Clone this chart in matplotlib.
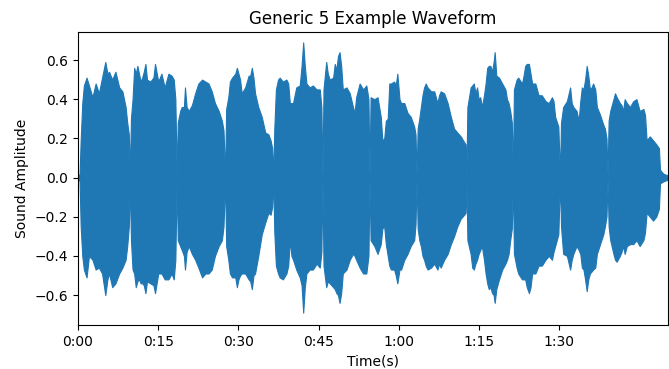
import numpy as np
import matplotlib
matplotlib.use("Agg")
import matplotlib.pyplot as plt
from matplotlib.ticker import FuncFormatter, FixedLocator

# Envelope of the waveform (seconds, amplitude)
env_time = [
    0.0, 0.3, 0.5, 0.8, 1.1, 1.6, 2.05, 2.7, 3.3, 3.9, 4.5, 5.1, 5.5, 5.8, 6.4, 7.0, 7.7, 8.3, 8.9, 9.2, 9.5, 9.7,
    9.9, 10.2, 10.5, 10.8, 11.1, 11.4, 11.7, 12.0, 12.3, 12.6, 12.9, 13.5, 14.1, 14.4, 15.0, 15.6, 16.2, 16.9, 17.5, 17.9, 18.2, 18.45,
    18.65, 19.1, 19.4, 19.8, 20.0, 20.3, 20.7, 21.3, 21.9, 22.5, 23.2, 23.8, 24.4, 25.0, 25.6, 26.3, 26.9, 27.2, 27.5,
    27.7, 28.1, 28.4, 28.8, 29.4, 29.7, 30.0, 30.3, 30.6, 31.25, 31.9, 32.2, 32.5, 32.8, 33.1, 33.7, 34.35, 35.0, 35.6, 36.0, 36.3, 36.5,
    36.7, 37.0, 37.4, 37.7, 38.3, 38.96, 39.3, 39.6, 39.9, 40.2, 40.8, 41.45, 41.8, 42.1, 42.4, 42.7, 43.3, 43.9, 44.6, 45.2, 45.5, 45.7,
    45.9, 46.4, 46.7, 47.05, 47.7, 48.0, 48.3, 48.6, 48.9, 49.2, 49.5, 50.2, 50.8, 51.4, 51.7, 52.0, 52.65, 53.3, 53.9, 54.3, 54.5,
    54.7, 55.4, 56.0, 56.6, 56.9, 57.25, 57.55, 57.9, 58.2, 58.5, 59.1, 59.4, 59.7, 60.1, 60.4, 61.0, 61.6, 62.2, 62.85, 63.1, 63.3,
    63.5, 63.8, 64.1, 64.4, 64.7, 65.0, 65.35, 66.0, 66.6, 67.2, 67.5, 67.8, 68.45, 69.1, 69.7, 70.3, 70.9, 71.55, 72.2, 72.45, 72.6,
    72.8, 73.4, 73.7, 74.0, 74.3, 74.6, 74.9, 75.2, 75.5, 75.9, 76.2, 76.5, 76.8, 77.1, 77.4, 77.7, 77.9, 78.2, 78.7, 79.3, 79.9, 80.2, 80.5, 80.8, 81.1, 81.3,
    81.5, 82.0, 82.3, 83.0, 83.3, 83.6, 83.9, 84.3, 84.6, 84.9, 85.5, 86.1, 86.7, 87.4, 88.0, 88.6, 88.9, 89.2, 89.8, 90.1,
    90.3, 90.7, 91.4, 92.0, 92.3, 92.6, 93.2, 93.6, 93.9, 94.2, 94.5, 94.8, 95.1, 95.4, 95.7, 96.0, 96.3, 96.7, 97.0, 97.6, 98.2, 98.5, 98.8, 99.0,
    99.2, 99.5, 100.1, 100.4, 100.7, 101.3, 101.6, 101.9, 102.2, 102.6, 103.2, 103.8, 104.4, 105.0, 105.7, 106.0, 106.3, 106.9, 107.5, 108.1, 108.6, 108.8, 109.4, 110.3,
]
env_upper = [
    0.00, 0.02, 0.19, 0.38, 0.47, 0.51, 0.47, 0.41, 0.48, 0.43, 0.51, 0.59, 0.53, 0.54, 0.50, 0.54, 0.46, 0.44, 0.36, 0.28, 0.22, 0.02,
    0.30, 0.40, 0.56, 0.53, 0.57, 0.53, 0.49, 0.51, 0.54, 0.58, 0.50, 0.49, 0.51, 0.58, 0.49, 0.53, 0.46, 0.53, 0.52, 0.50, 0.40, 0.01,
    0.28, 0.34, 0.36, 0.36, 0.46, 0.36, 0.34, 0.37, 0.43, 0.48, 0.50, 0.49, 0.48, 0.44, 0.38, 0.34, 0.29, 0.24, 0.01,
    0.35, 0.41, 0.49, 0.51, 0.53, 0.56, 0.53, 0.50, 0.43, 0.46, 0.52, 0.52, 0.56, 0.51, 0.43, 0.36, 0.31, 0.23, 0.22, 0.19, 0.15, 0.01,
    0.25, 0.45, 0.50, 0.51, 0.49, 0.50, 0.48, 0.38, 0.38, 0.38, 0.46, 0.47, 0.57, 0.69, 0.57, 0.48, 0.46, 0.47, 0.45, 0.45, 0.36, 0.01,
    0.45, 0.59, 0.53, 0.50, 0.51, 0.58, 0.55, 0.62, 0.64, 0.57, 0.45, 0.46, 0.43, 0.36, 0.33, 0.41, 0.48, 0.45, 0.47, 0.40, 0.01,
    0.41, 0.40, 0.41, 0.31, 0.19, 0.20, 0.29, 0.30, 0.48, 0.48, 0.49, 0.47, 0.53, 0.40, 0.38, 0.38, 0.33, 0.31, 0.26, 0.22, 0.01,
    0.25, 0.30, 0.36, 0.42, 0.46, 0.48, 0.46, 0.44, 0.44, 0.38, 0.42, 0.44, 0.43, 0.38, 0.31, 0.25, 0.23, 0.21, 0.18, 0.17, 0.01,
    0.36, 0.46, 0.47, 0.48, 0.43, 0.46, 0.40, 0.41, 0.36, 0.42, 0.48, 0.56, 0.57, 0.57, 0.54, 0.59, 0.64, 0.52, 0.51, 0.48, 0.45, 0.40, 0.38, 0.34, 0.28, 0.01,
    0.45, 0.50, 0.51, 0.48, 0.52, 0.57, 0.58, 0.58, 0.53, 0.48, 0.48, 0.42, 0.42, 0.39, 0.38, 0.41, 0.39, 0.31, 0.26, 0.01,
    0.28, 0.36, 0.39, 0.46, 0.38, 0.36, 0.34, 0.29, 0.39, 0.46, 0.45, 0.50, 0.57, 0.52, 0.45, 0.46, 0.48, 0.45, 0.36, 0.32, 0.27, 0.25, 0.20, 0.01,
    0.29, 0.34, 0.40, 0.43, 0.41, 0.38, 0.37, 0.34, 0.40, 0.38, 0.36, 0.39, 0.40, 0.34, 0.35, 0.32, 0.19, 0.21, 0.19, 0.17, 0.15, 0.04, 0.02, 0.01,
]
env_lower = [
    0.00, -0.02, -0.25, -0.40, -0.47, -0.51, -0.40, -0.42, -0.47, -0.46, -0.49, -0.60, -0.52, -0.49, -0.56, -0.54, -0.49, -0.46, -0.42, -0.35, -0.25, -0.03,
    -0.32, -0.47, -0.49, -0.56, -0.53, -0.52, -0.54, -0.54, -0.55, -0.59, -0.53, -0.54, -0.55, -0.59, -0.49, -0.49, -0.52, -0.52, -0.49, -0.52, -0.42, -0.01,
    -0.32, -0.35, -0.37, -0.40, -0.47, -0.38, -0.35, -0.39, -0.42, -0.46, -0.51, -0.49, -0.49, -0.47, -0.40, -0.35, -0.32, -0.25, -0.01,
    -0.35, -0.42, -0.49, -0.51, -0.51, -0.56, -0.52, -0.50, -0.49, -0.49, -0.52, -0.53, -0.57, -0.50, -0.49, -0.40, -0.29, -0.23, -0.18, -0.19, -0.15, -0.01,
    -0.28, -0.45, -0.49, -0.51, -0.52, -0.49, -0.45, -0.32, -0.40, -0.42, -0.47, -0.51, -0.55, -0.69, -0.56, -0.49, -0.47, -0.47, -0.44, -0.46, -0.38, -0.01,
    -0.45, -0.56, -0.53, -0.54, -0.56, -0.57, -0.59, -0.60, -0.64, -0.59, -0.49, -0.47, -0.42, -0.39, -0.40, -0.42, -0.46, -0.49, -0.49, -0.40, -0.01,
    -0.32, -0.35, -0.39, -0.34, -0.26, -0.25, -0.34, -0.40, -0.45, -0.47, -0.47, -0.50, -0.54, -0.47, -0.47, -0.42, -0.39, -0.35, -0.32, -0.24, -0.01,
    -0.26, -0.32, -0.35, -0.40, -0.42, -0.45, -0.47, -0.46, -0.44, -0.47, -0.44, -0.46, -0.42, -0.39, -0.34, -0.30, -0.25, -0.21, -0.19, -0.18, -0.01,
    -0.32, -0.39, -0.46, -0.47, -0.44, -0.42, -0.39, -0.37, -0.35, -0.42, -0.49, -0.54, -0.57, -0.56, -0.59, -0.60, -0.64, -0.57, -0.52, -0.47, -0.44, -0.42, -0.39, -0.32, -0.26, -0.01,
    -0.39, -0.46, -0.49, -0.52, -0.52, -0.52, -0.56, -0.59, -0.56, -0.49, -0.49, -0.45, -0.45, -0.42, -0.40, -0.42, -0.38, -0.35, -0.29, -0.01,
    -0.25, -0.39, -0.40, -0.47, -0.42, -0.39, -0.35, -0.37, -0.39, -0.46, -0.47, -0.52, -0.58, -0.52, -0.49, -0.48, -0.47, -0.46, -0.39, -0.34, -0.29, -0.25, -0.20, -0.01,
    -0.25, -0.32, -0.39, -0.42, -0.43, -0.40, -0.38, -0.35, -0.39, -0.35, -0.34, -0.34, -0.32, -0.35, -0.32, -0.28, -0.18, -0.20, -0.22, -0.20, -0.16, -0.03, -0.02, -0.01,
]

x_ticks = [0, 15, 30, 45, 60, 75, 90]
y_ticks = [-0.6, -0.4, -0.2, 0.0, 0.2, 0.4, 0.6]
title = "Generic 5 Example Waveform"
xlabel = "Time(s)"
ylabel = "Sound Amplitude"

assert len(env_time) == len(env_upper) == len(env_lower)

plt.rcParams['font.family'] = ['DejaVu Sans']
plt.rcParams['font.size'] = 10

W, H = 669, 369
fig = plt.figure(figsize=(W / 100, H / 100), dpi=100)
ax = fig.add_axes([78 / W, 44 / H, 590 / W, 293 / H])

color = '#1f77b4'
ax.fill_between(env_time, env_lower, env_upper, color=color, linewidth=0.8, edgecolor=color)

ax.set_xlim(0, env_time[-1])
ax.set_ylim(-0.753, 0.743)

def mmss(v, pos):
    v = int(round(v))
    return f"{v // 60}:{v % 60:02d}"

ax.xaxis.set_major_locator(FixedLocator(x_ticks))
ax.xaxis.set_major_formatter(FuncFormatter(mmss))
ax.set_yticks(y_ticks)

ax.set_title(title, fontsize=12)
ax.set_xlabel(xlabel)
ax.set_ylabel(ylabel)

fig.savefig("out.png", dpi=100)
